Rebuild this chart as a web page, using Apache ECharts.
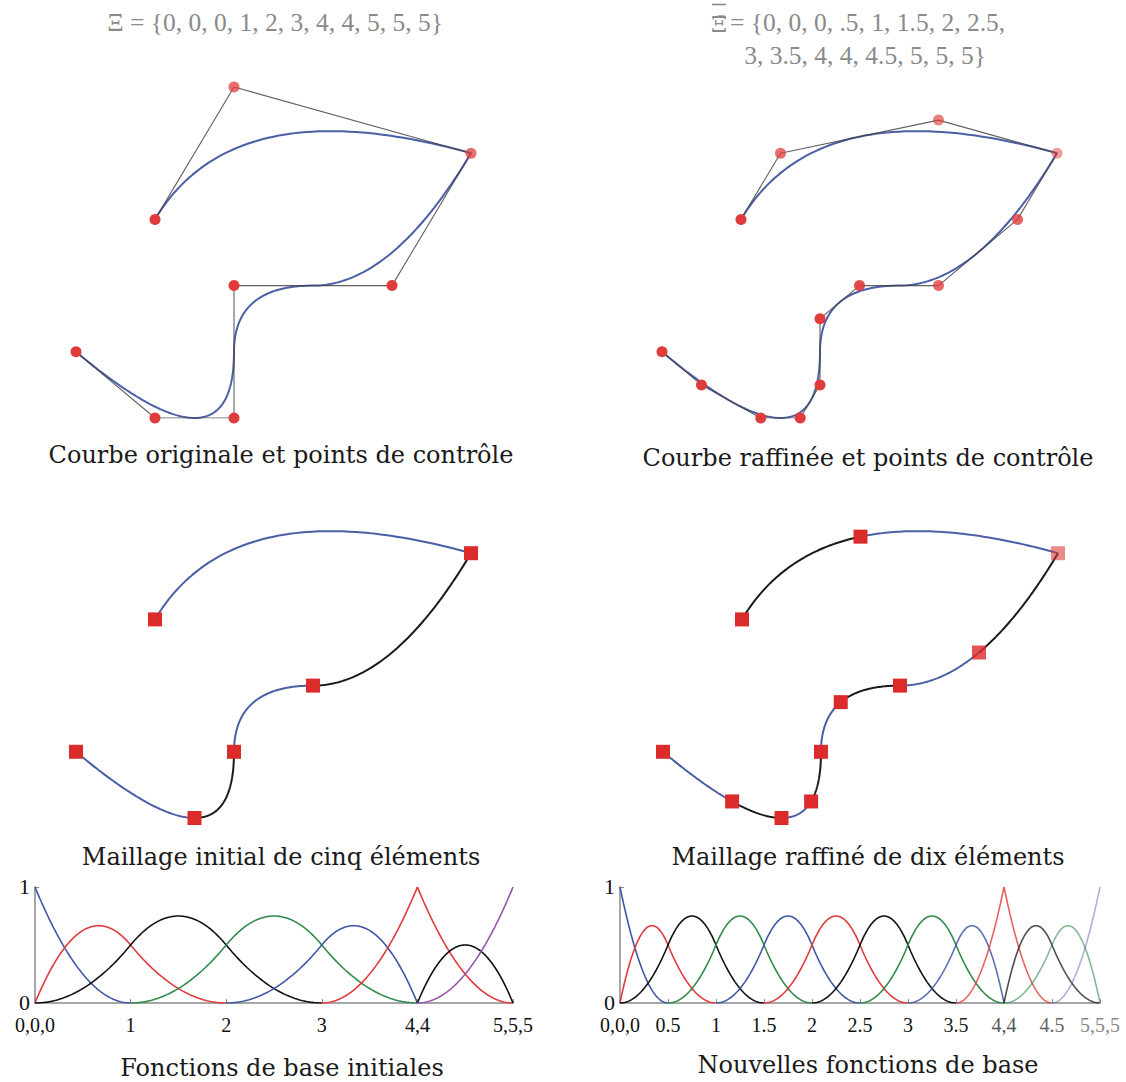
<!DOCTYPE html>
<html><head><meta charset="utf-8">
<script src="https://cdn.jsdelivr.net/npm/echarts@6/dist/echarts.min.js"></script>
<style>html,body{margin:0;padding:0;background:#fff}#c{width:1126px;height:1082px}</style>
</head><body><div id="c"></div>
<script>
// ---------- data ----------
const degree = 2;
const knots = [0,0,0,1,2,3,4,4,5,5,5];
const knotsRefined = [0,0,0,0.5,1,1.5,2,2.5,3,3.5,4,4,4.5,5,5,5];
const ctrlX = [0,1,2,2,4,5,2,1];
const ctrlY = [1,0,0,2,2,4,5,3];
const refX = [0,0.5,1.25,1.75,2,2,2.5,3.5,4.5,5,3.5,1.5,1];
const refY = [1,0.5,0,0,0.5,1.5,2,2,3,4,4.5,4,3];
const tickValues = [0,1,2,3,4,5];
const tickLabels = ['0,0,0','1','2','3','4,4','5,5,5'];
const tickValuesRef = [0,0.5,1,1.5,2,2.5,3,3.5,4,4.5,5];
const tickLabelsRef = ['0,0,0','0.5','1','1.5','2','2.5','3','3.5','4,4','4.5','5,5,5'];
const titleLeft = 'Ξ = {0, 0, 0, 1, 2, 3, 4, 4, 5, 5, 5}';
const titleRightSym = 'Ξ̄';
const titleRight1 = '= {0, 0, 0, .5, 1, 1.5, 2, 2.5,';
const titleRight2 = '3, 3.5, 4, 4, 4.5, 5, 5, 5}';
const captions = ['Courbe originale et points de contrôle','Courbe raffinée et points de contrôle',
  'Maillage initial de cinq éléments','Maillage raffiné de dix éléments',
  'Fonctions de base initiales','Nouvelles fonctions de base'];

// ---------- styles ----------
const ctrlOpacity = [1,1,1,1,1,0.75,0.75,1];
const refOpacity = [1,1,1,1,1,1,0.92,0.78,0.8,0.5,0.65,0.75,1];
const meshRefOpacity = [1,1,1,1,1,1,1,0.8,0.55,1,1];
const basisColorsL = ['#3f56a6','#e23a3a','#111111','#2f8a4c','#3f56a6','#e23a3a','#111111','#9a52ad'];
const cycle = ['#3f56a6','#e23a3a','#111111','#2f8a4c'];
const basisOpacityR = [1,1,1,1,1,1,1,1,0.85,0.8,0.75,0.6,0.45];
const tickColorR = ['#111','#111','#111','#111','#111','#111','#111','#222','#555','#666','#888'];
const RED = '#e03c3c', SQ = '#dc2b2b', BLUE = '#4a5fa6', DARK = '#1a1a1a';

// ---------- B-spline ----------
function N(i, p, u, T) {
  const last = T[T.length-1];
  if (p === 0) {
    if (u === last) return (T[i] < T[i+1] && T[i+1] === last) ? 1 : 0;
    return (T[i] <= u && u < T[i+1]) ? 1 : 0;
  }
  let a = 0, b = 0;
  const d1 = T[i+p]-T[i], d2 = T[i+p+1]-T[i+1];
  if (d1 > 0) a = (u-T[i])/d1 * N(i,p-1,u,T);
  if (d2 > 0) b = (T[i+p+1]-u)/d2 * N(i+1,p-1,u,T);
  return a + b;
}
function pt(u, T, X, Y) {
  let x = 0, y = 0;
  for (let i = 0; i < X.length; i++) { const w = N(i,degree,u,T); x += w*X[i]; y += w*Y[i]; }
  return [x, y];
}
function uniq(T){ return T.filter((v,i)=>i===0||v!==T[i-1]); }
function sampleRange(a,b,n,T,X,Y){ const r=[]; for(let k=0;k<=n;k++){ r.push(pt(a+(b-a)*k/n,T,X,Y)); } return r; }

const series = [];
function topPanel(g, T, X, Y, op) {
  const U = uniq(T);
  series.push({type:'line', xAxisIndex:g, yAxisIndex:g, data: sampleRange(U[0],U[U.length-1],300,T,X,Y),
    showSymbol:false, lineStyle:{color:BLUE,width:2}, silent:true, z:2});
  series.push({type:'line', xAxisIndex:g, yAxisIndex:g, data: X.map((x,i)=>[x,Y[i]]),
    showSymbol:false, lineStyle:{color:'#444',width:1.1,opacity:0.85}, silent:true, z:3});
  series.push({type:'scatter', xAxisIndex:g, yAxisIndex:g, symbolSize:11,
    data: X.map((x,i)=>({value:[x,Y[i]], itemStyle:{opacity:op[i]}})),
    itemStyle:{color:RED}, silent:true, z:4});
}
function meshPanel(g, T, X, Y, op) {
  const U = uniq(T);
  for (let e = 0; e < U.length-1; e++) {
    series.push({type:'line', xAxisIndex:g, yAxisIndex:g, data: sampleRange(U[e],U[e+1],60,T,X,Y),
      showSymbol:false, lineStyle:{color: e%2===0?BLUE:DARK, width:2}, silent:true, z:2});
  }
  series.push({type:'scatter', xAxisIndex:g, yAxisIndex:g, symbol:'rect', symbolSize:14,
    data: U.map((u,i)=>({value:pt(u,T,X,Y), itemStyle:{opacity:op?op[i]:1}})),
    itemStyle:{color:SQ}, silent:true, z:4});
}
function basisPanel(g, T, nFun, colorFn, opFn) {
  for (let i = 0; i < nFun; i++) {
    const a = T[i], b = T[i+degree+1], d = [];
    for (let k=0;k<=150;k++){ const u=a+(b-a)*k/150; d.push([u, N(i,degree,u,T)]); }
    series.push({type:'line', xAxisIndex:g, yAxisIndex:g, data:d, showSymbol:false,
      lineStyle:{color:colorFn(i), width:1.6, opacity:opFn(i)}, silent:true, z:3});
  }
}
topPanel(0, knots, ctrlX, ctrlY, ctrlOpacity);
topPanel(1, knotsRefined, refX, refY, refOpacity);
meshPanel(2, knots, ctrlX, ctrlY, null);
meshPanel(3, knotsRefined, refX, refY, meshRefOpacity);
basisPanel(4, knots, ctrlX.length, i=>basisColorsL[i], ()=>1);
basisPanel(5, knotsRefined, refX.length, i=>cycle[i%4], i=>basisOpacityR[i]);

const grids = [
  {left:76, top:87, width:395, height:331},
  {left:662, top:87, width:395, height:331},
  {left:76, top:487, width:395, height:331},
  {left:663, top:487, width:395, height:331},
  {left:35, top:887, width:478, height:116},
  {left:620, top:887, width:480, height:116}
];
const hiddenX = g => ({type:'value', gridIndex:g, min:0, max:5, show:false});
const hiddenY = g => ({type:'value', gridIndex:g, min:0, max:5, show:false});
const axLine = {show:true, lineStyle:{color:'#8a8a8a', width:1.5}};
const axTick = {show:true, inside:true, length:4, lineStyle:{color:'#8a8a8a'}};
const lblFont = {fontFamily:'Liberation Serif', fontSize:20, color:'#111'};
const xAxis = [hiddenX(0),hiddenX(1),hiddenX(2),hiddenX(3),
  {type:'value', gridIndex:4, min:0, max:5, interval:1, axisLine:axLine, axisTick:axTick, splitLine:{show:false},
   axisLabel:Object.assign({margin:12, formatter:v=>tickLabels[tickValues.indexOf(v)]}, lblFont)},
  {type:'value', gridIndex:5, min:0, max:5, interval:0.5, axisLine:axLine, axisTick:axTick, splitLine:{show:false},
   axisLabel:Object.assign({}, lblFont, {margin:12, formatter:v=>tickLabelsRef[tickValuesRef.indexOf(v)],
     color:(v)=>tickColorR[tickValuesRef.indexOf(Number(v))] || '#111'})}
];
const yB = g => ({type:'value', gridIndex:g, min:0, max:1, interval:1, axisLine:axLine, axisTick:axTick,
  splitLine:{show:false}, axisLabel:{margin:5, fontFamily:'Liberation Serif', fontSize:22, color:'#111', verticalAlign:'bottom', lineHeight:22, padding:[0,0,-10,0]}});
const yAxis = [hiddenY(0),hiddenY(1),hiddenY(2),hiddenY(3), yB(4), yB(5)];

const capFont = 'DejaVu Serif';
function txt(t, x, y, font, size, color, align){
  return {type:'text', x:x, y:y, style:{text:t, fontFamily:font, fontSize:size, fill:color, textAlign:align||'center', textVerticalAlign:'middle'}};
}
const graphic = [
  txt(titleLeft, 275, 22, 'Liberation Serif', 25.5, '#8a8a8a'),
  txt(titleRightSym, 719, 24, 'DejaVu Serif', 23, '#8a8a8a'),
  {type:'line', shape:{x1:712, y1:4.5, x2:726, y2:4.5}, style:{stroke:'#8a8a8a', lineWidth:1.6}, silent:true},
  txt(titleRight1, 730, 22, 'Liberation Serif', 25.5, '#8a8a8a', 'left'),
  txt(titleRight2, 865, 55, 'Liberation Serif', 25.5, '#8a8a8a'),
  txt(captions[0], 281, 455, capFont, 24, '#1a1a1a'),
  txt(captions[1], 868, 458, capFont, 24, '#1a1a1a'),
  txt(captions[2], 281, 857, capFont, 24, '#1a1a1a'),
  txt(captions[3], 868, 857, capFont, 24, '#1a1a1a'),
  txt(captions[4], 282, 1068, capFont, 24, '#1a1a1a'),
  txt(captions[5], 868, 1065, capFont, 24, '#1a1a1a')
];

const chart = echarts.init(document.getElementById('c'), null, {renderer:'svg'});
chart.setOption({animation:false, backgroundColor:'#fff', grid:grids, xAxis, yAxis, series, graphic});
</script></body></html>
